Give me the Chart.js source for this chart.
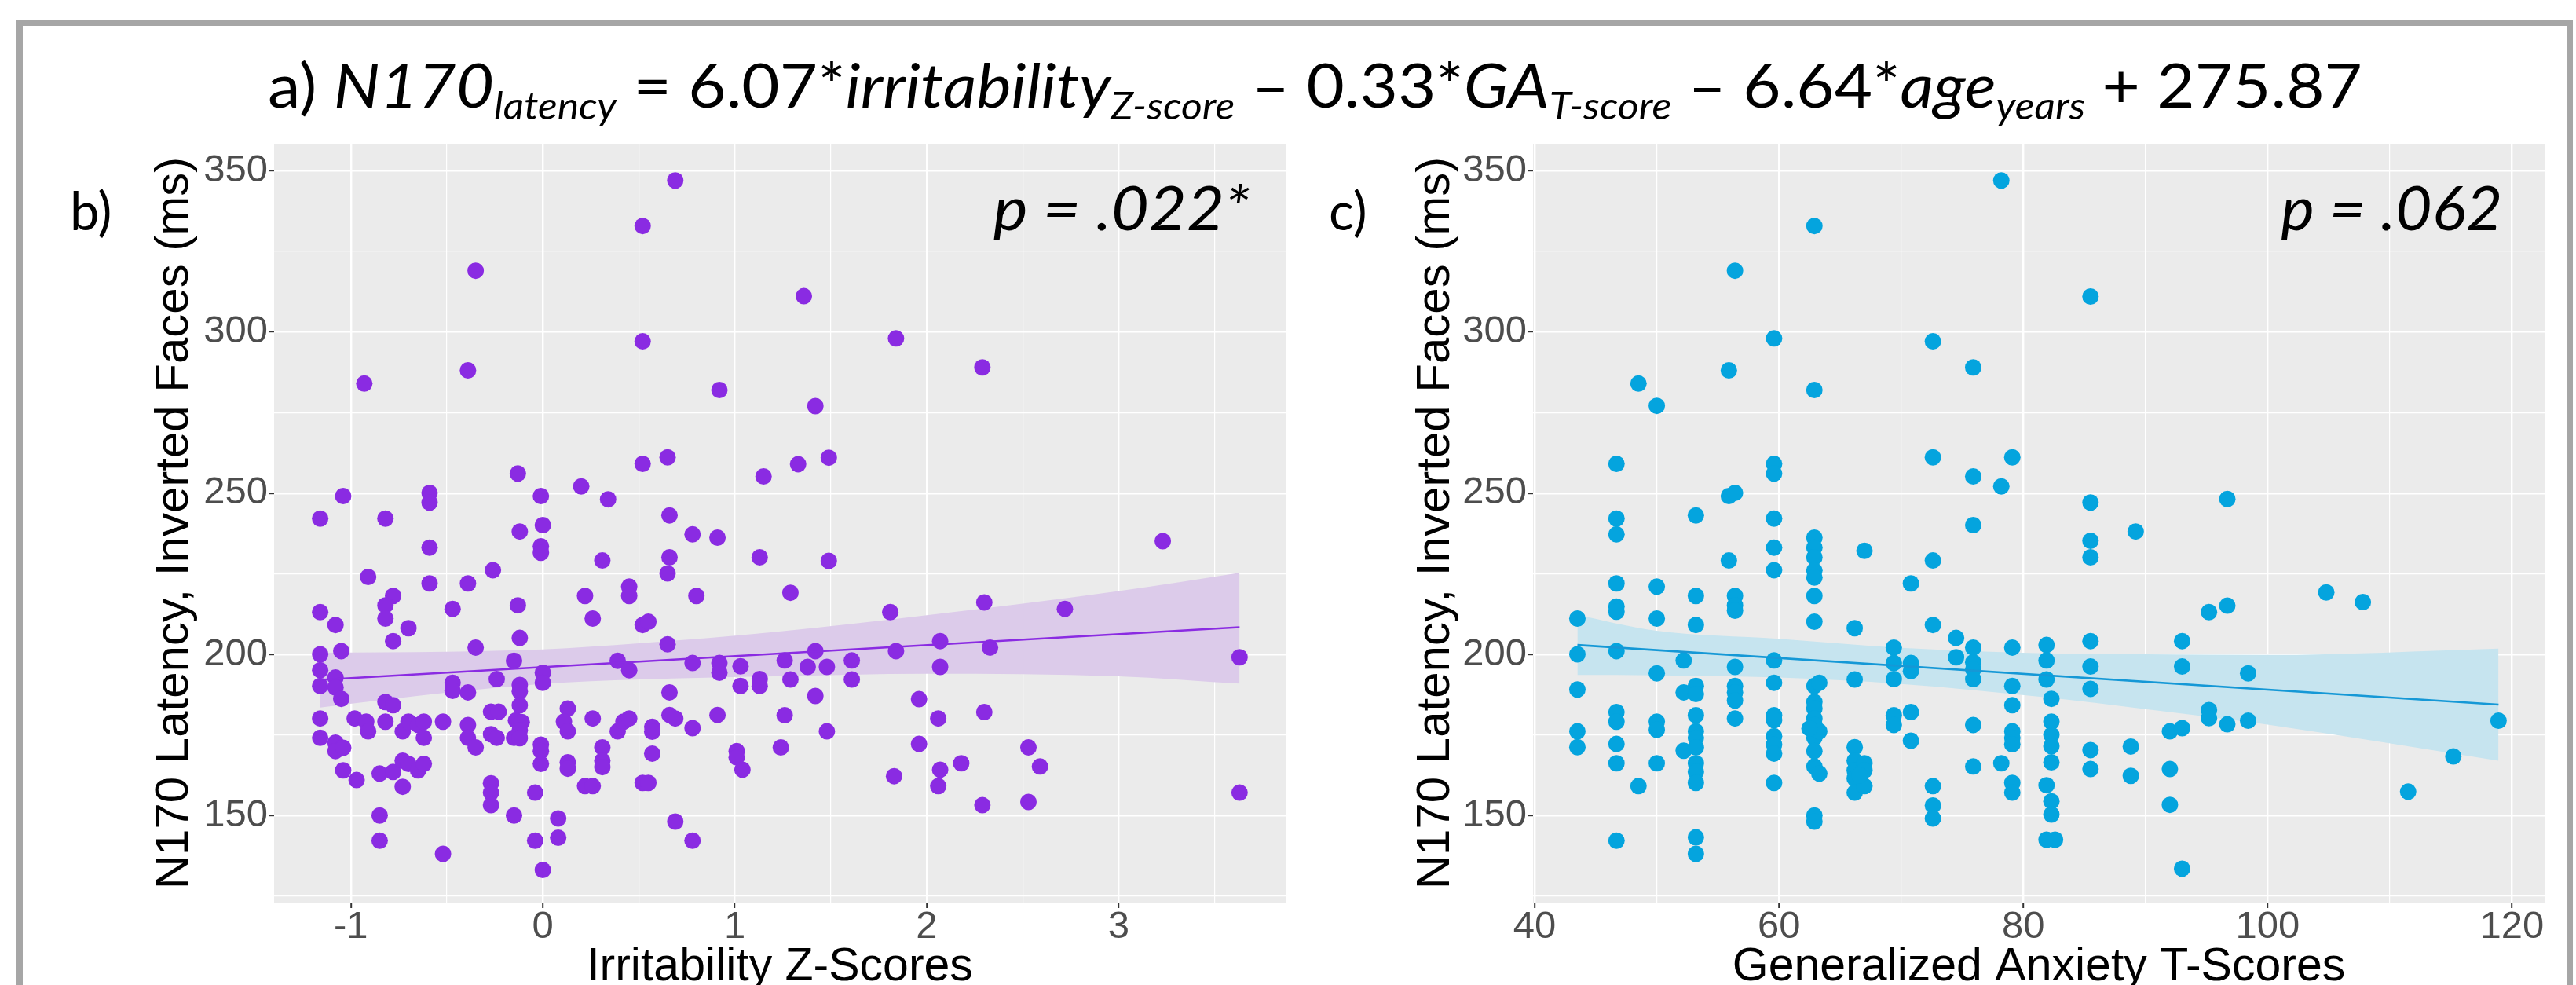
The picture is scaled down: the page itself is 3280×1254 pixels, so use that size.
<!DOCTYPE html>
<html>
<head>
<meta charset="utf-8">
<script src="https://cdn.jsdelivr.net/npm/chart.js@4.4.0/dist/chart.umd.min.js"></script>
<style>
  html, body { margin: 0; padding: 0; background: #fff; width: 3280px; height: 1254px; overflow: hidden; }
  #frame { position: absolute; left: 21px; top: 25px; width: 3255px; height: 1300px; border: 8px solid #a6a6a6; box-sizing: border-box; }
  canvas { position: absolute; top: 0; }
  #chartB { left: 0; }
  #chartC { left: 1640px; }
  .txt { position: absolute; font-family: Lato, sans-serif; line-height: 1; white-space: nowrap; color: #000; }
  #title { font-size: 78px; left: 341px; top: 68px; }
  #title sub { font-size: 0.62em; vertical-align: -0.32em; line-height: 0; }
  .panel { font-size: 67px; top: 234px; }
  .pval { font-size: 78px; top: 224px; font-style: italic; }
</style>
</head>
<body>
<div id="frame"></div>
<canvas id="chartB" width="1660" height="1300" style="width:1660px;height:1300px"></canvas>
<canvas id="chartC" width="1640" height="1300" style="width:1640px;height:1300px"></canvas>
<div class="txt" id="title">a) <i>N170<sub>latency</sub></i> = 6.07*<i>irritability<sub>Z-score</sub></i> – 0.33*<i>GA<sub>T-score</sub></i> – 6.64*<i>age<sub>years</sub></i> + 275.87</div>
<div class="txt panel" style="left:89px">b)</div>
<div class="txt panel" style="left:1692px">c)</div>
<div class="txt pval" id="pB" style="right:1688px">p = .022*</div>
<div class="txt pval" id="pC" style="right:94px">p = .062</div>
<script>
// panel b: irritability z-scores vs N170 latency
const irritability = [
  0.69, 0.52, -0.35, 0.52, -0.39, -0.93, 0.92, 0.65, 0.52, -0.13, 1.15, 0.20, -1.04, -0.59, -0.59, -0.01, 0.34,
  -1.16, -0.82, 0.66, 0.00, -0.12, 0.78, 0.91, -0.01, -0.01, -0.59, 0.66, 1.13, 0.31, 0.65, -0.91, -0.26, -0.59,
  -0.39, -0.78, -0.82, -0.82, -1.16, -1.08, -0.70, -0.78, -0.47, -0.13, -0.12, -0.35, 0.22, 0.45, 0.45, 0.26,
  0.52, 0.55, 0.65, 0.80, 1.29,
  1.36, 1.84, 2.29, 1.42, 1.33, 1.49, 1.49, 1.81, 2.30, 2.72, 3.23,
  -1.16, -1.05, -1.16, -1.16, -1.08, -1.08, -1.05, -1.16, -1.16, -1.08, -1.08, -1.04, -1.04, -0.97, -0.98, -0.92,
  -0.91, -0.82, -0.82, -0.78, -0.85, -0.85, -0.85, -0.78, -0.73, -0.70, -0.65, -0.62, -0.73, -0.73, -0.70, -0.65,
  -0.62, -0.62, -0.52, -0.52, -0.47, -0.47, -0.39, -0.39, -0.39, -0.35, -0.24, -0.27, -0.23, -0.27, -0.24, -0.27,
  -0.27, -0.27, -0.15, -0.12, -0.12, -0.12, -0.14, -0.11, -0.12, -0.15, -0.12, -0.04, -0.04, -0.15, 0.00, 0.00,
  0.00, -0.01, -0.01, -0.01, 0.08, 0.08, 0.13, 0.11, 0.13, 0.13, 0.13, 0.26, 0.22, 0.26, 0.31, 0.31, 0.31, 0.39,
  0.45, 0.39, 0.42, 0.45, 0.57, 0.57, 0.57, 0.52, 0.55, 0.66, 0.66, 0.69, 0.78, 0.78, 0.69, 0.78, 0.91, 0.92,
  0.92, 1.01, 1.01, 1.04, 1.03, 1.03, 1.13, 1.13,
  3.63, 3.63, 1.26, 1.42, 1.38, 1.48, 1.29, 1.61, 1.61, 1.84, 2.07, 2.07, 2.33, 1.42, 1.26, 1.48, 1.24, 1.96,
  2.06, 2.30, 1.96, 1.83, 2.07, 2.06, 2.18, 2.29, 2.53, 2.59, 2.53
];
const latencyB = [
  347.0, 332.9, 319.0, 297.1, 288.1, 284.0, 282.0, 261.1, 259.1, 256.1, 255.2, 252.1, 249.1, 250.1, 247.1, 249.1, 248.1,
  242.1, 242.1, 243.1, 240.1, 238.1, 237.2, 236.2, 233.5, 231.5, 233.1, 230.1, 230.1, 229.1, 225.1, 224.0, 226.1, 222.0,
  222.0, 218.1, 215.2, 211.1, 213.1, 209.1, 208.1, 204.1, 214.1, 215.2, 205.1, 202.1, 218.1, 221.0, 218.1, 211.1,
  209.1, 210.1, 203.1, 218.1, 219.1,
  311.1, 298.0, 289.0, 277.0, 259.0, 261.0, 229.0, 213.1, 216.1, 214.1, 235.1,
  200.0, 201.0, 195.1, 190.2, 192.8, 189.7, 186.2, 180.1, 174.1, 172.6, 170.0, 171.0, 164.0, 161.0, 180.1, 179.1,
  176.1, 179.1, 185.2, 184.2, 163.0, 150.0, 142.2, 163.5, 167.0, 166.0, 164.0, 166.0, 158.9, 176.1, 179.1, 178.1,
  179.1, 174.1, 179.1, 138.1, 191.2, 188.7, 188.2, 178.1, 174.1, 171.1, 192.3, 182.2, 182.2, 175.2, 174.1, 160.0,
  157.1, 153.2, 198.0, 190.5, 188.5, 184.2, 179.5, 179.0, 176.5, 174.1, 174.0, 157.1, 142.2, 150.0, 133.1, 194.3,
  191.2, 172.0, 170.0, 166.0, 149.1, 143.1, 183.2, 179.1, 176.1, 166.5, 164.5, 180.1, 159.1, 159.1, 171.1, 167.0, 165.0, 198.0,
  195.1, 176.1, 179.1, 180.1, 177.5, 176.0, 169.2, 160.1, 160.1, 188.2, 181.2, 180.1, 197.3, 177.1, 148.1, 142.2, 181.2, 197.3,
  194.3, 170.0, 168.0, 164.2, 196.3, 190.2, 192.3, 190.2,
  199.1, 157.1, 198.1, 201.0, 196.1, 196.1, 192.2, 198.1, 192.2, 201.0, 204.1, 196.1, 202.1, 187.1, 181.1, 176.1, 171.1, 186.1,
  180.1, 182.1, 172.2, 162.2, 164.2, 159.1, 166.2, 153.2, 171.1, 165.2, 154.2
];
const fitB_x = [-1.16, 3.63];
const fitB_y = [192.1, 208.4];
const bandB_x = [-1.16, -0.5, 0, 0.5, 1.2, 2.0, 3.0, 3.63];
const bandB_hi = [200.5, 200.8, 201.5, 203.4, 206.9, 212.1, 219.6, 225.3];
const bandB_lo = [183.5, 188.1, 190.8, 192.2, 193.2, 194.0, 193.2, 190.9];

// panel c: generalized anxiety t-scores vs N170 latency
const gaScore = [
  43.5, 43.5, 43.5, 43.5, 43.5,
  46.7, 46.7, 46.7, 46.7, 46.7, 46.7, 46.7, 46.7, 46.7, 46.7, 46.7, 46.7,
  48.5, 48.5,
  50.0, 50.0, 50.0, 50.0, 50.0, 50.0, 50.0,
  52.2, 52.2, 52.2,
  53.2, 53.2, 53.2, 53.2, 53.2, 53.2, 53.2, 53.2, 53.2, 53.2, 53.2, 53.2, 53.2, 53.2,
  55.9, 55.9, 55.9,
  56.4, 56.4, 56.4, 56.4, 56.4, 56.4, 56.4, 56.4, 56.4, 56.4,
  59.6, 59.6, 59.6, 59.6, 59.6, 59.6, 59.6, 59.6, 59.6, 59.6, 59.6, 59.6, 59.6, 59.6,
  62.9, 62.9, 62.9, 62.9, 62.9, 62.9, 62.9, 62.9, 62.9, 62.9, 62.9, 62.9, 62.9, 62.9, 62.9, 62.9, 62.9, 62.9, 62.9,
  63.3, 63.3, 63.3, 62.5,
  66.2, 66.2, 66.2, 66.2, 66.2, 66.2, 66.2,
  67.0, 67.0, 67.0, 67.0, 66.6,
  69.4, 69.4, 69.4, 69.4, 69.4,
  70.8, 70.8, 70.8, 70.8, 70.8,
  72.6, 72.6, 72.6, 72.6, 72.6, 72.6, 72.6,
  74.5, 74.5,
  75.9, 75.9, 75.9, 75.9, 75.9, 75.9, 75.9, 75.9, 75.9,
  78.2, 78.2, 78.2,
  79.1, 79.1, 79.1, 79.1, 79.1, 79.1, 79.1, 79.1, 79.1,
  81.9, 81.9, 81.9, 81.9, 81.9,
  82.3, 82.3, 82.3, 82.3, 82.3, 82.3, 82.3, 82.6,
  85.5, 85.5, 85.5, 85.5, 85.5, 85.5, 85.5, 85.5, 85.5,
  88.8, 88.8, 89.2,
  92.0, 92.0, 92.0,
  93.0, 93.0, 93.0, 93.0,
  95.2, 95.2, 95.2,
  96.7, 96.7, 96.7,
  98.4, 98.4,
  104.8, 107.8, 111.5, 115.2, 118.9
];
const latencyC = [
  211.1, 200.0, 189.1, 176.1, 171.2,
  259.1, 242.1, 237.2, 222.0, 214.8, 213.2, 201.0, 182.1, 179.1, 172.2, 166.2, 142.2,
  284.0, 159.1,
  277.1, 221.0, 211.1, 194.1, 179.1, 176.6, 166.2,
  198.1, 188.2, 170.1,
  243.1, 218.1, 209.1, 190.2, 187.7, 181.1, 176.1, 174.1, 171.1, 166.2, 163.5, 160.1, 143.2, 138.1,
  288.1, 249.1, 229.1,
  319.0, 250.1, 218.1, 215.2, 213.5, 196.1, 190.2, 188.2, 185.7, 180.1,
  298.0, 259.1, 256.1, 242.1, 233.1, 226.1, 198.1, 191.2, 181.1, 179.6, 174.6, 172.0, 169.2, 160.1,
  332.9, 282.0, 236.2, 233.1, 230.1, 226.0, 223.8, 218.1, 210.1, 190.2, 185.2, 183.2, 180.1, 178.1, 174.1, 170.0, 165.2, 150.0, 148.1,
  191.2, 176.1, 163.0, 177.0,
  208.1, 192.2, 171.2, 167.0, 164.0, 161.5, 157.1,
  232.1, 166.2, 164.0, 159.1, 162.5,
  202.1, 197.3, 192.3, 181.1, 178.1,
  222.0, 197.3, 194.8, 182.1, 173.2,
  297.1, 261.1, 229.1, 209.1, 159.1, 153.1, 149.1,
  205.1, 199.1,
  289.0, 255.2, 240.1, 202.1, 197.5, 195.3, 192.3, 178.1, 165.2,
  347.0, 252.1, 166.2,
  261.1, 202.1, 190.2, 184.2, 176.1, 174.1, 172.1, 160.1, 157.1,
  202.9, 198.1, 192.2, 159.4, 142.5,
  186.2, 179.1, 175.0, 171.5, 166.5, 154.4, 150.3, 142.5,
  311.0, 247.1, 235.2, 230.1, 204.1, 196.2, 189.3, 170.3, 164.4,
  171.4, 162.3, 238.1,
  176.1, 164.4, 153.3,
  204.1, 196.2, 177.1, 133.5,
  213.1, 182.7, 180.2,
  248.2, 215.1, 178.3,
  194.1, 179.4,
  219.2, 216.2, 157.4, 168.3, 179.4
];
const fitC_x = [43.5, 118.9];
const fitC_y = [202.9, 184.4];
const bandC_x = [43.5, 50, 60, 70, 81.7, 90, 100, 118.9];
const bandC_hi = [212.2, 207.3, 204.8, 202.0, 200.3, 200.0, 199.8, 201.8];
const bandC_lo = [193.6, 193.5, 192.8, 190.8, 186.7, 183.0, 178.2, 167.0];

// ticks
const yTicks = [125, 150, 175, 200, 225, 250, 275, 300, 325, 350];
const yMajor = [150, 200, 250, 300, 350];
const xTicksB = [-1, -0.5, 0, 0.5, 1, 1.5, 2, 2.5, 3, 3.5];
const xMajorB = [-1, 0, 1, 2, 3];
const xTicksC = [40, 50, 60, 70, 80, 90, 100, 110, 120];
const xMajorC = [40, 60, 80, 100, 120];

const zip = (xs, ys) => xs.map((x, i) => ({ x: x, y: ys[i] }));

const panelBg = {
  id: "panelBg",
  beforeDraw(chart) {
    const { ctx, chartArea: a } = chart;
    ctx.save();
    ctx.fillStyle = "#ebebeb";
    ctx.fillRect(a.left, a.top, a.right - a.left, a.bottom - a.top);
    ctx.restore();
  },
};

function axis(ticks, major, min, max, title, titlePad, horizontal, size, titleSize) {
  return {
    type: "linear",
    min: min,
    max: max,
    afterBuildTicks: (s) => { s.ticks = ticks.map((v) => ({ value: v })); },
    afterFit: (s) => { if (horizontal) s.height = size; else s.width = size; },
    border: { display: false },
    grid: {
      color: "#ffffff",
      lineWidth: (c) => (major.includes(c.tick.value) ? 2.4 : 1.2),
      tickLength: 7,
      tickWidth: 2,
      tickColor: (c) => (major.includes(c.tick.value) ? "#333333" : "rgba(0,0,0,0)"),
    },
    ticks: {
      autoSkip: false,
      maxRotation: 0,
      padding: horizontal ? 0 : 1,
      color: "#4d4d4d",
      font: { family: "Liberation Sans", size: 49, lineHeight: 1 },
      callback: (v) => (major.includes(v) ? String(v) : ""),
    },
    title: {
      display: true,
      text: title,
      color: "#000000",
      font: { family: "Liberation Sans", size: titleSize, lineHeight: 1 },
      padding: horizontal ? { top: 0, bottom: titlePad } : { top: titlePad, bottom: 0 },
    },
  };
}

function makePanel(id, xs, ys, color, lineColor, bandColor, fitX, fitY, bandX, hi, lo, xAxis, yTitlePad, yWidth, padRight) {
  return new Chart(document.getElementById(id), {
    type: "scatter",
    data: {
      datasets: [
        {
          type: "line",
          data: zip(fitX, fitY),
          borderColor: lineColor,
          borderWidth: 2.6,
          pointRadius: 0,
          fill: false,
          order: 0,
        },
        {
          data: zip(xs, ys),
          backgroundColor: color,
          borderWidth: 0,
          pointRadius: 10.5,
          order: 1,
        },
        {
          type: "line",
          data: zip(bandX, hi),
          borderWidth: 0,
          pointRadius: 0,
          backgroundColor: bandColor,
          fill: "+1",
          tension: 0.4,
          cubicInterpolationMode: "monotone",
          order: 2,
        },
        {
          type: "line",
          data: zip(bandX, lo),
          borderWidth: 0,
          pointRadius: 0,
          fill: false,
          tension: 0.4,
          cubicInterpolationMode: "monotone",
          order: 2,
        },
      ],
    },
    options: {
      responsive: false,
      animation: false,
      devicePixelRatio: 1,
      layout: { padding: { top: 183, right: padRight, bottom: 0, left: 0 } },
      plugins: { legend: { display: false }, tooltip: { enabled: false } },
      scales: {
        x: xAxis,
        y: axis(yTicks, yMajor, 123.0, 358.4, "N170 Latency, Inverted Faces (ms)", yTitlePad, false, yWidth, 60),
      },
    },
    plugins: [panelBg],
  });
}

makePanel("chartB", irritability, latencyB, "#8a2be2", "#8a2be2", "#dccbea",
  fitB_x, fitB_y, bandB_x, bandB_hi, bandB_lo,
  axis(xTicksB, xMajorB, -1.40, 3.87, "Irritability Z-Scores", 38.5, true, 151, 59), 192, 349, 23);

makePanel("chartC", gaScore, latencyC, "#04a4de", "#1598d6", "#c6e4ef",
  fitC_x, fitC_y, bandC_x, bandC_hi, bandC_lo,
  axis(xTicksC, xMajorC, 39.87, 122.67, "Generalized Anxiety T-Scores", 38.5, true, 151, 59), 158, 312, 40);

// stretch the Lato text to the widths measured on the reference
function fitWidth(id, width, origin) {
  const el = document.getElementById(id);
  const w = el.getBoundingClientRect().width;
  el.style.transformOrigin = origin;
  el.style.transform = "scaleX(" + (width / w).toFixed(4) + ")";
}
fitWidth("title", 2667, "left center");
fitWidth("pB", 327, "right center");
fitWidth("pC", 282, "right center");
</script>
</body>
</html>
